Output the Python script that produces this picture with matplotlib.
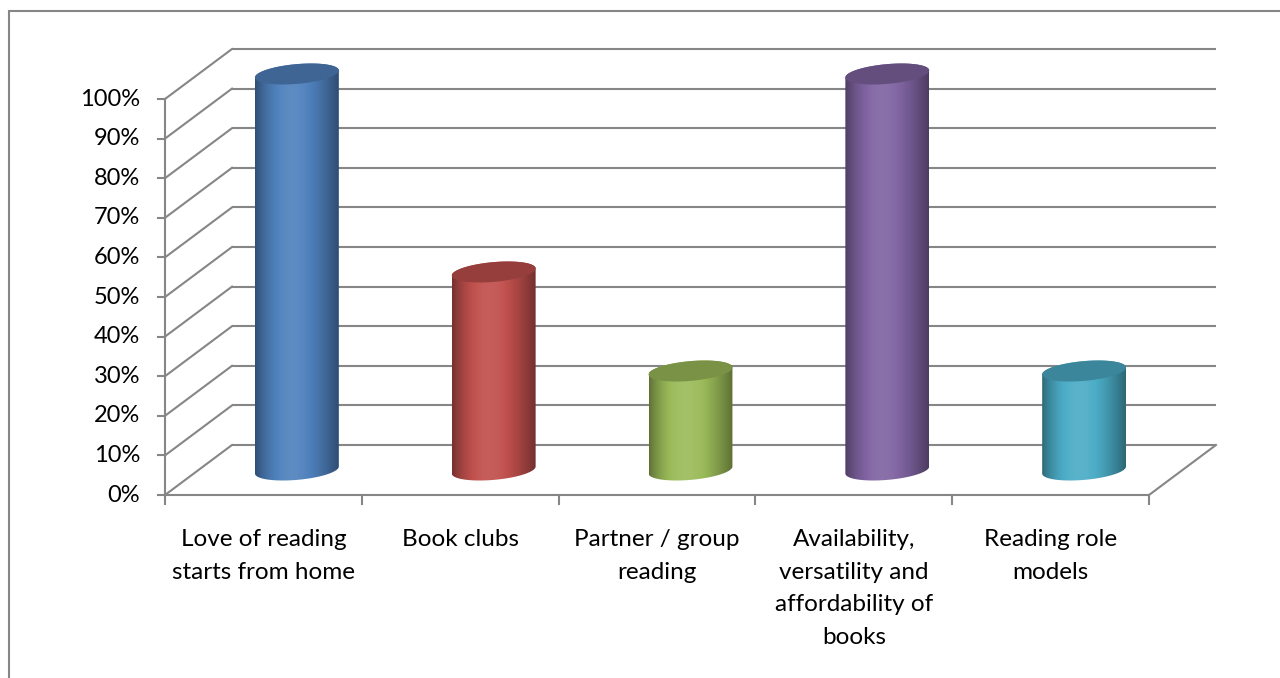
import numpy as np
import matplotlib.pyplot as plt
from matplotlib.patches import Polygon, Rectangle

# data
categories = ["Love of reading\nstarts from home", "Book clubs", "Partner / group\nreading",
              "Availability,\nversatility and\naffordability of\nbooks", "Reading role\nmodels"]
values = [100, 50, 25, 100, 25]
colors = ["#4F81BD", "#C0504D", "#9BBB59", "#8064A2", "#4BACC6"]
yticks = list(range(0, 101, 10))

plt.rcParams['font.family'] = ['Lato', 'DejaVu Sans']

# scale of the plot area, in pixels per unit
PX_CAT = 196.8      # one category
PX_PCT = 3.96       # one percent
X0, Y0 = 165, 495   # front-left floor corner (pixels from top-left)
W, H = 1280, 678

fig = plt.figure(figsize=(W / 100, H / 100), dpi=100)
ax = fig.add_axes([0, 0, 1, 1])
ax.axis('off')
ax.set_xlim(-X0 / PX_CAT, (W - X0) / PX_CAT)
ax.set_ylim(-(H - Y0) / PX_PCT, Y0 / PX_PCT)

# oblique depth offset of the back wall
DX = 67 / PX_CAT
DY = 50 / PX_PCT
n = len(values)
grid_c = "#868686"
lw = 1.5

# back wall gridlines and left wall diagonals
for v in yticks:
    ax.plot([DX, n + DX], [DY + v, DY + v], color=grid_c, lw=lw, zorder=1, solid_capstyle='butt')
    ax.plot([0, DX], [v, DY + v], color=grid_c, lw=lw, zorder=1)
    ax.plot([-7 / PX_CAT, 0], [v, v], color=grid_c, lw=lw, zorder=1)
# floor front and right edges, value axis
ax.plot([0, n], [0, 0], color=grid_c, lw=lw, zorder=1)
ax.plot([n, n + DX], [0, DY], color=grid_c, lw=lw, zorder=1)
ax.plot([0, 0], [0, 100], color=grid_c, lw=lw, zorder=1)
for i in range(n + 1):
    ax.plot([i, i], [0, -9 / PX_PCT], color=grid_c, lw=lw, zorder=1)

# axis labels
for v in yticks:
    ax.text(-25 / PX_CAT, v, f"{v}%", ha='right', va='center', fontsize=17, color='black')
for i, lab in enumerate(categories):
    ax.text(i + 0.5, -34 / PX_PCT, lab, ha='center', va='top', fontsize=17.5,
            color='black', linespacing=1.68)


def shade(rgb, f):
    rgb = np.asarray(rgb)
    if f >= 1:
        return rgb + (1 - rgb) * (f - 1)
    return rgb * f


# cylinders
a = 39.5 / PX_CAT
k = 0.21
bx, by = k * DX, k * DY
ts = np.arctan2(bx, a)
for i, (val, col) in enumerate(zip(values, colors)):
    rgb = np.array(plt.matplotlib.colors.to_rgb(col))
    cx = i + 0.5 + 0.5 * DX
    y0 = 0.5 * DY
    y1 = y0 + val

    def ell(t, yc):
        return cx + a * np.cos(t) + bx * np.sin(t), yc + by * np.sin(t)

    tf = np.linspace(ts + np.pi, ts + 2 * np.pi, 80)
    tb = np.linspace(ts, ts + np.pi, 80)
    xb, yb = ell(tf, y0)
    xt, yt = ell(tb, y1)
    body = Polygon(np.column_stack([np.r_[xb, xt], np.r_[yb, yt]]), closed=True,
                   facecolor='none', edgecolor='none', transform=ax.transData)
    ax.add_patch(body)

    xl, xr = cx - np.hypot(a, bx), cx + np.hypot(a, bx)
    u = np.linspace(0, 1, 200)
    fac = 0.6 + 0.48 * np.sin(np.pi * u ** 0.85)
    img = np.array([shade(rgb, f) for f in fac])[None, :, :]
    im = ax.imshow(img, extent=[xl, xr, y0 - by - 1, y1 + by + 1], aspect='auto',
                   interpolation='bilinear', zorder=2)
    im.set_clip_path(body)

    ta = np.linspace(0, 2 * np.pi, 120)
    xe, ye = ell(ta, y1)
    ax.add_patch(Polygon(np.column_stack([xe, ye]), closed=True, facecolor=shade(rgb, 0.78),
                         edgecolor='none', zorder=3))

ax.set_xlim(-X0 / PX_CAT, (W - X0) / PX_CAT)
ax.set_ylim(-(H - Y0) / PX_PCT, Y0 / PX_PCT)

# chart area border
fig.patches.append(Rectangle((9 / W, -0.02), 1.05, 1.02 - 11 / H, transform=fig.transFigure,
                             fill=False, edgecolor=grid_c, lw=1.5))

fig.savefig("out.png", dpi=100, facecolor='white')
